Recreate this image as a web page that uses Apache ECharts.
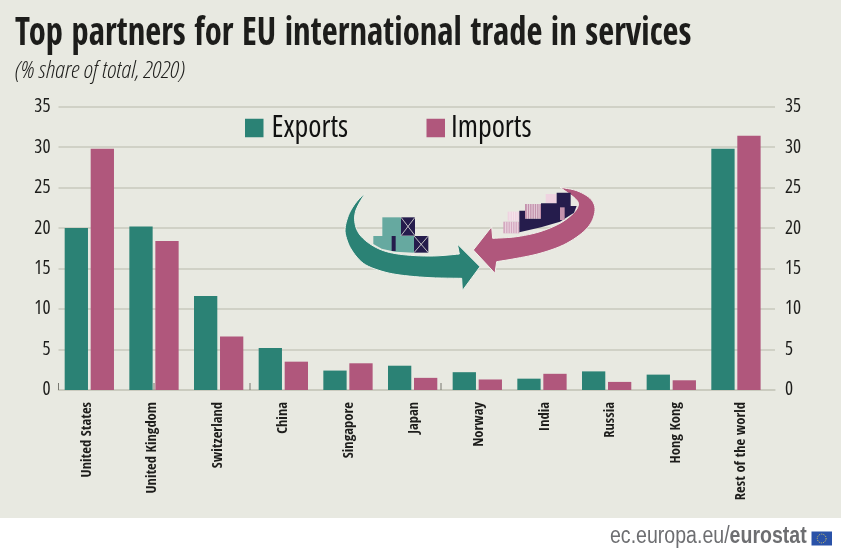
<!DOCTYPE html>
<html lang="en">
<head>
    <meta charset="UTF-8">
    <title>Top partners for EU international trade in services</title>
    <script src="https://cdn.jsdelivr.net/npm/echarts@6/dist/echarts.min.js"></script>
    <style>
        html, body { margin: 0; padding: 0; background: #e8e9e1; }
    </style>
</head>
<body>
<div id="myCharts" style="width: 841px;height: 555px"></div>

<script>
    const categories = ['United States', 'United Kingdom', 'Switzerland', 'China', 'Singapore', 'Japan', 'Norway', 'India', 'Russia', 'Hong Kong', 'Rest of the world'];
    const exportsShare = [20.0, 20.2, 11.6, 5.2, 2.4, 3.0, 2.2, 1.4, 2.3, 1.9, 29.8];
    const importsShare = [29.8, 18.4, 6.6, 3.5, 3.3, 1.5, 1.3, 2.0, 1.0, 1.2, 31.4];

    const NARROW = '"Open Sans Condensed", "Roboto Condensed", sans-serif';
    const OPEN = '"Open Sans", sans-serif';
    const TEAL = '#2b8275';
    const ROSE = '#b0577c';
    const NAVY = '#251c4c';
    const BG = '#e8e9e1';

    // the picture in the middle, drawn in crop coordinates: x = 340 + zx / 3, y = 170 + zy / 3
    const ox = 340, oy = 170;
    const px = (p) => [ox + p[0] / 3, oy + p[1] / 3];
    const box = (x1, y1, x2, y2, fill) => ({
        type: 'rect', z: 5,
        shape: {x: ox + x1 / 3, y: oy + y1 / 3, width: (x2 - x1) / 3, height: (y2 - y1) / 3},
        style: {fill: fill}
    });
    const lineOf = (x1, y1, x2, y2, stroke, w) => ({
        type: 'line', z: 6,
        shape: {x1: ox + x1 / 3, y1: oy + y1 / 3, x2: ox + x2 / 3, y2: oy + y2 / 3},
        style: {stroke: stroke, lineWidth: w}
    });
    const crossBox = (x1, y1, x2, y2) => [
        box(x1, y1, x2, y2, NAVY),
        lineOf(x1, y1, x2, y2, BG, 0.8),
        lineOf(x2, y1, x1, y2, BG, 0.8)
    ];
    const stripes = (x1, y1, x2, y2, fill, step) => {
        let out = [box(x1, y1, x2, y2, fill)];
        for (let x = x1 + step; x < x2; x += step) {
            out.push(lineOf(x, y1, x, y2, '#f7eef2', 0.7));
        }
        return out;
    };
    const polygonOf = (points, fill, z, halo) => ({
        type: 'polygon', z: z,
        shape: {points: points.map(px)},
        style: {fill: fill, stroke: halo || null, lineWidth: halo ? 1 : 0}
    });
    // rounds a hand traced outline so the arrows don't look faceted
    const curve = (pts) => {
        let out = [];
        for (let i = 0; i < pts.length - 1; i++) {
            let a = pts[Math.max(i - 1, 0)], b = pts[i], c = pts[i + 1], d = pts[Math.min(i + 2, pts.length - 1)];
            for (let k = 0; k < 6; k++) {
                let t = k / 6;
                out.push([0, 1].map(j => 0.5 * (2 * b[j] + (c[j] - a[j]) * t + (2 * a[j] - 5 * b[j] + 4 * c[j] - d[j]) * t * t + (3 * b[j] - a[j] - 3 * c[j] + d[j]) * t * t * t)));
            }
        }
        out.push(pts[pts.length - 1]);
        return out;
    };

    const tealArrow = [].concat(
        curve([[75, 70], [50, 95], [28, 130], [16, 170], [18, 200], [35, 240], [70, 280], [120, 302], [180, 315], [270, 323], [365, 325]]),
        [[367, 362], [420, 290], [352, 222]],
        curve([[358, 252], [280, 258], [200, 255], [140, 245], [95, 225], [60, 195], [45, 160], [48, 120], [75, 70]])
    );
    const roseArrow = [].concat(
        curve([[660, 52], [710, 62], [750, 85], [765, 115], [755, 155], [725, 190], [670, 225], [600, 250], [530, 265], [470, 275]]),
        [[465, 310], [400, 240], [455, 170]],
        curve([[458, 205], [530, 200], [600, 185], [660, 160], [700, 130], [715, 105], [705, 85], [660, 52]])
    );

    const iconParts = [].concat(
        [box(127, 142, 183, 198, '#66a9a0')],
        [polygonOf([[100, 198], [222, 198], [222, 248], [165, 245], [125, 236], [100, 222]], '#66a9a0', 5)],
        [box(155, 198, 167, 243, NAVY)],
        crossBox(183, 142, 225, 197),
        crossBox(222, 198, 265, 248),
        stripes(503, 125, 538, 152, '#efd3e0', 7),
        stripes(490, 155, 538, 190, '#d4a8bf', 7),
        [box(617, 72, 650, 100, '#efd3e0')],
        stripes(555, 102, 603, 146, '#c392ac', 7),
        [polygonOf([[538, 122], [555, 122], [555, 146], [603, 146], [603, 172], [538, 187]], NAVY, 5)],
        [polygonOf([[603, 100], [650, 100], [650, 68], [692, 68], [692, 108], [710, 108], [702, 128], [660, 155], [603, 172]], NAVY, 5)],
        [box(660, 112, 674, 150, '#c392ac')]
    );

    let myChart = echarts.init(document.getElementById('myCharts'));
    myChart.setOption({
        backgroundColor: BG,
        animation: false,
        legend: [
            {
                data: [{name: 'Exports', icon: 'rect'}], left: 245, top: 113,
                itemWidth: 18.5, itemHeight: 18.5, padding: 0,
                textStyle: {fontFamily: OPEN, fontWeight: 'normal condensed', fontSize: 30, color: '#111', padding: [12, 0, 0, 3]}
            },
            {
                data: [{name: 'Imports', icon: 'rect'}], left: 426.5, top: 113,
                itemWidth: 18.5, itemHeight: 18.5, padding: 0,
                textStyle: {fontFamily: OPEN, fontWeight: 'normal condensed', fontSize: 30, color: '#111', padding: [12, 0, 0, 1]}
            }
        ],
        grid: [
            {left: 58.5, top: 106.7, width: 716.5, height: 283.3},   // frame: gridlines and value labels
            {left: 57, top: 106.7, width: 711.3, height: 283.3},     // bars
            {left: 54.5, top: 106.7, width: 719.4, height: 283.3}    // country names
        ],
        xAxis: [
            {
                gridIndex: 0, type: 'category', data: categories,
                axisLine: {lineStyle: {color: '#c8c9bd', width: 1.5}},
                axisTick: {show: false}, axisLabel: {show: false}
            },
            {
                gridIndex: 1, type: 'category', data: categories,
                axisLine: {show: false}, axisTick: {show: false}, axisLabel: {show: false}
            },
            {
                gridIndex: 2, type: 'category', data: categories,
                axisLine: {show: false}, axisTick: {show: false},
                axisLabel: {
                    interval: 0, rotate: 90, margin: 12,
                    fontFamily: NARROW, fontWeight: 'bold', fontSize: 14.5, color: '#1d1d1b'
                }
            }
        ],
        yAxis: [
            {
                gridIndex: 0, type: 'value', min: 0, max: 35, interval: 5,
                axisLine: {show: false}, axisTick: {show: false},
                axisLabel: {margin: 8, padding: [0, 0, 3, 0], fontFamily: OPEN, fontWeight: 'normal condensed', fontSize: 19, color: '#1d1d1b'},
                splitLine: {lineStyle: {color: '#c8c9bd', width: 1.5}}
            },
            {
                gridIndex: 0, type: 'value', position: 'right', min: 0, max: 35, interval: 5,
                axisLine: {show: false}, axisTick: {show: false},
                axisLabel: {margin: 10, padding: [0, 0, 3, 0], fontFamily: OPEN, fontWeight: 'normal condensed', fontSize: 19, color: '#1d1d1b'},
                splitLine: {show: false}
            },
            {gridIndex: 1, type: 'value', min: 0, max: 35, show: false},
            {gridIndex: 2, type: 'value', min: 0, max: 35, show: false}
        ],
        series: [
            {
                name: 'Exports', type: 'bar', xAxisIndex: 1, yAxisIndex: 2,
                data: exportsShare, barWidth: 23.3, barGap: '11.6%',
                itemStyle: {color: TEAL}, z: 3
            },
            {
                name: 'Imports', type: 'bar', xAxisIndex: 1, yAxisIndex: 2,
                data: importsShare, barWidth: 23.3, barGap: '11.6%',
                itemStyle: {color: ROSE}, z: 3
            }
        ],
        graphic: [].concat(
            [
                {
                    type: 'text', z: 7, x: 15, y: 15, scaleX: 0.887,
                    style: {text: 'Top partners for EU international trade in services', fontFamily: NARROW, fontWeight: 'bold', fontSize: 39, fill: '#1d1d1b'}
                },
                {
                    type: 'text', z: 7, x: 15, y: 60, scaleX: 1.07,
                    style: {text: '(% share of total, 2020)', fontFamily: OPEN, fontStyle: 'italic', fontWeight: '300 condensed', fontSize: 23, fill: '#1d1d1b'}
                },
                // white footer band
                {type: 'rect', z: 1, shape: {x: 0, y: 518, width: 841, height: 37}, style: {fill: '#fff'}},
                {
                    type: 'text', z: 2, x: 610, y: 525, scaleX: 0.85,
                    style: {
                        text: '{a|ec.europa.eu/}{b|eurostat}', fill: '#6d6e71',
                        rich: {
                            a: {fontFamily: '"Liberation Sans"', fontSize: 23, fill: '#6d6e71'},
                            b: {fontFamily: '"Liberation Sans"', fontSize: 23, fontWeight: 'bold', fill: '#6d6e71'}
                        }
                    }
                },
                {type: 'rect', z: 2, shape: {x: 811.5, y: 531.5, width: 20.5, height: 14}, style: {fill: '#2a52a8'}},
                {type: 'circle', z: 3, shape: {cx: 821.7, cy: 538.5, r: 4.4}, style: {fill: 'none', stroke: '#e8d25a', lineWidth: 1, lineDash: [1, 1.2]}},
                // axis stubs left over in the original artwork
                {type: 'line', z: 1, shape: {x1: 58.5, y1: 383, x2: 58.5, y2: 390}, style: {stroke: '#77776f', lineWidth: 1}},
                {type: 'line', z: 1, shape: {x1: 154, y1: 383, x2: 154, y2: 390}, style: {stroke: '#77776f', lineWidth: 1}},
                {type: 'line', z: 1, shape: {x1: 250, y1: 383, x2: 250, y2: 390}, style: {stroke: '#77776f', lineWidth: 1}},
                {type: 'line', z: 1, shape: {x1: 441, y1: 383, x2: 441, y2: 390}, style: {stroke: '#77776f', lineWidth: 1}},
                polygonOf(tealArrow, TEAL, 4, '#f0f1ea'),
                polygonOf(roseArrow, ROSE, 4, '#f0f1ea')
            ],
            iconParts
        )
    });
</script>

</body>
</html>
